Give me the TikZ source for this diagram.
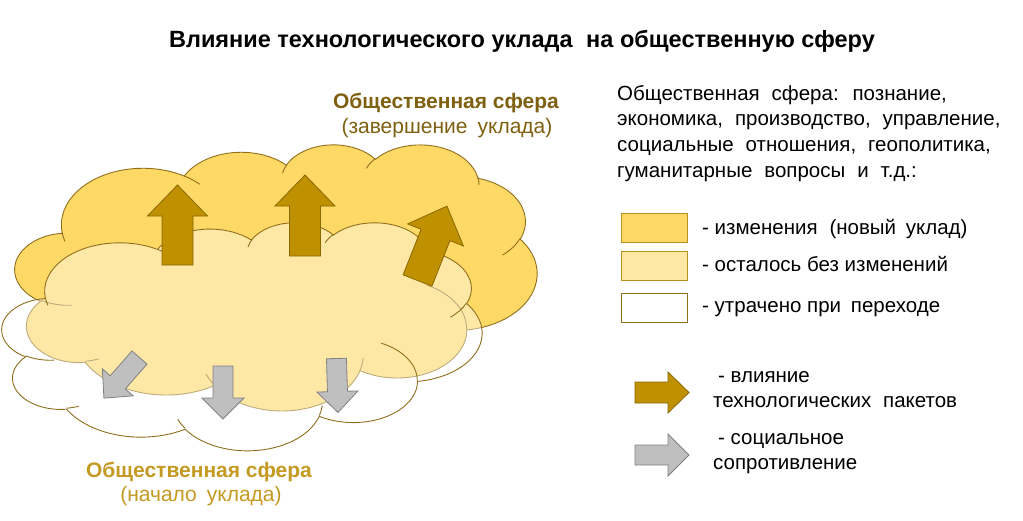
\documentclass[tikz,border=0pt]{standalone}
\usepackage{fontspec}
\setmainfont{Liberation Sans}
\newfontfamily\descfont{Liberation Sans}[WordSpace=2.1]
\definecolor{cloudD}{HTML}{FFD966}
\definecolor{edge}{HTML}{8F6F1E}
\definecolor{darkar}{HTML}{BF9000}
\definecolor{darkaredge}{HTML}{8A6800}
\definecolor{grayar}{HTML}{BFBFBF}
\definecolor{grayaredge}{HTML}{808080}
\definecolor{toplab}{HTML}{7F6010}
\definecolor{botlab}{HTML}{C49A22}
\definecolor{lightbox}{HTML}{FFE8A3}
\definecolor{boxedge}{HTML}{B8901E}
\def\cloudouter{(39.00,143.70)
 arc[start angle=-187.75,delta angle=128.11,x radius=67.53,y radius=91.90]
 arc[start angle=-152.02,delta angle=106.55,x radius=53.33,y radius=72.67]
 arc[start angle=-153.48,delta angle=116.16,x radius=43.65,y radius=59.45]
 arc[start angle=-139.71,delta angle=129.49,x radius=48.57,y radius=65.95]
 arc[start angle=-74.76,delta angle=97.97,x radius=53.33,y radius=72.73]
 arc[start angle=-37.52,delta angle=119.38,x radius=67.75,y radius=92.20]
 arc[start angle=0.46,delta angle=121.50,x radius=57.85,y radius=78.67]
 arc[start angle=16.84,delta angle=129.41,x radius=67.52,y radius=92.15]
 arc[start angle=59.03,delta angle=91.12,x radius=77.20,y radius=105.43]
 arc[start angle=83.31,delta angle=139.77,x radius=43.60,y radius=59.18]
 arc[start angle=120.36,delta angle=143.75,x radius=43.45,y radius=59.45]
 -- cycle}
\def\cloudinner{
 (46.93,261.77) arc[start angle=85.55,delta angle=34.81,x radius=43.45,y radius=59.45]
 (69.28,348.99) arc[start angle=68.26,delta angle=15.05,x radius=43.60,y radius=59.18]
 (164.78,390.90) arc[start angle=146.25,delta angle=12.23,x radius=67.52,y radius=92.15]
 (288.27,347.51) arc[start angle=4.74,delta angle=12.10,x radius=67.52,y radius=92.15]
 (341.29,229.54) arc[start angle=-63.98,delta angle=64.44,x radius=57.85,y radius=78.67]
 (417.98,153.54) arc[start angle=23.21,delta angle=26.45,x radius=53.33,y radius=72.73]
 (383.24,54.26) arc[start angle=-10.22,delta angle=11.04,x radius=48.57,y radius=65.95]
 (290.78,39.52) arc[start angle=-156.28,delta angle=16.57,x radius=48.57,y radius=65.95]
 (221.41,47.20) arc[start angle=-167.73,delta angle=14.25,x radius=43.65,y radius=59.45]
 (140.00,51.92) arc[start angle=-59.64,delta angle=13.90,x radius=67.53,y radius=91.90]
 (41.27,157.89) arc[start angle=163.19,delta angle=9.06,x radius=67.53,y radius=91.90]}
% L, head length, head half width, shaft half width
\newcommand\arrowpath[4]{(0,-#4) -- ({#1-#2},-#4) -- ({#1-#2},-#3) -- (#1,0) -- ({#1-#2},#3) -- ({#1-#2},#4) -- (0,#4) -- cycle}
\tikzset{
  cloudline/.style={draw=edge,line width=0.9pt},
  darkarrow/.style={fill=darkar,draw=darkaredge,line width=0.8pt,line join=miter},
  grayarrow/.style={fill=grayar,draw=grayaredge,line width=0.8pt,line join=miter},
  legbox/.style={draw=boxedge,line width=0.9pt,minimum width=66pt,minimum height=29pt,inner sep=0pt},
  bodytext/.style={font=\fontsize{20.5}{24}\selectfont,inner sep=0pt,anchor=base west},
  desctext/.style={font=\descfont\fontsize{20.5}{24}\selectfont,inner sep=0pt,anchor=base west},
  toplabel/.style={font=\fontsize{21}{24}\selectfont,text=toplab,inner sep=0pt,anchor=base},
  botlabel/.style={font=\fontsize{21}{24}\selectfont,text=botlab,inner sep=0pt,anchor=base},
}
\begin{document}
\begin{tikzpicture}[x=1pt,y=-1pt]
\useasboundingbox (0,0) rectangle (1023,520);
\fill[white] (0,0) rectangle (1023,520);
% back cloud: new sphere (changes)
\begin{scope}[shift={(15,144)},x=1.20833pt,y=-0.61574pt]
  \filldraw[fill=cloudD,cloudline] \cloudouter;
  \draw[cloudline] \cloudinner;
\end{scope}
% front cloud: start sphere (semi-transparent white)
\begin{scope}[shift={(2,222)},x=1.11111pt,y=-0.52778pt]
  \fill[white,fill opacity=0.42] \cloudouter;
  \draw[cloudline] \cloudouter;
  \draw[cloudline] \cloudinner;
\end{scope}
% technology arrows
\draw[darkarrow,shift={(177.5,265)},rotate=90] \arrowpath{80}{31}{30}{15.5};
\draw[darkarrow,shift={(305,256)},rotate=90] \arrowpath{81}{31}{30}{15.5};
\draw[darkarrow,shift={(417.5,280.5)},rotate=68.4] \arrowpath{80}{31}{30}{15.5};
% resistance arrows
\draw[grayarrow,shift={(139.5,357.5)},rotate=228.8] \arrowpath{54}{21}{20.5}{10};
\draw[grayarrow,shift={(223,366)},rotate=-90] \arrowpath{53}{21}{21}{10};
\draw[grayarrow,shift={(336.5,358.5)},rotate=-88.4] \arrowpath{54}{21}{20.5}{10};
% title
\node[font=\fontsize{23.5}{27}\selectfont\bfseries,inner sep=0pt,anchor=base] (title) at (522,47)
  {Влияние технологического уклада\hspace{0.3em} на общественную сферу};
% cloud labels
\node[toplabel,font=\fontsize{21}{24}\selectfont\bfseries] (endlab1) at (446,108) {Общественная сфера};
\node[toplabel] (endlab2) at (447,133) {(завершение\hspace{0.2em} уклада)};
\node[botlabel,font=\fontsize{21}{24}\selectfont\bfseries] (startlab1) at (199,477) {Общественная сфера};
\node[botlabel] (startlab2) at (201,501) {(начало\hspace{0.2em} уклада)};
% description
\node[desctext] (d1) at (617,100) {Общественная сфера: познание,};
\node[desctext] (d2) at (617,125) {экономика, производство, управление,};
\node[desctext] (d3) at (617,151) {социальные отношения, геополитика,};
\node[desctext] (d4) at (617,177) {гуманитарные вопросы и т.д.:};
% legend boxes
\node[legbox,fill=cloudD] (box1) at (654,228) {};
\node[legbox,fill=lightbox] (box2) at (654,265.5) {};
\node[legbox,fill=white,draw=edge] (box3) at (654,308) {};
\node[bodytext] (t1) at (702,234) {- изменения\hspace{0.3em} (новый\hspace{0.2em} уклад)};
\node[bodytext] (t2) at (702,271) {- осталось без изменений};
\node[bodytext] (t3) at (702,312) {- утрачено при\hspace{0.2em} переходе};
% legend arrows
\draw[darkarrow,shift={(635,392.5)}] \arrowpath{54}{21}{20.5}{10.5};
\draw[grayarrow,shift={(635,455)}] \arrowpath{54}{21}{21}{10};
\node[bodytext] (t4) at (718,382) {- влияние};
\node[bodytext] (t5) at (713,407) {технологических\hspace{0.3em} пакетов};
\node[bodytext] (t6) at (718,444) {- социальное};
\node[bodytext] (t7) at (713,469) {сопротивление};
\end{tikzpicture}
\end{document}
